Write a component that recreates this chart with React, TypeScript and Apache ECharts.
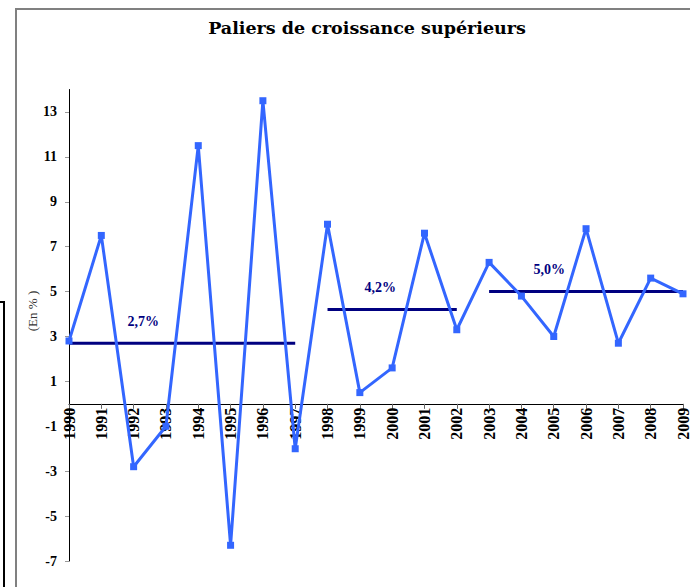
import React, { useEffect, useRef } from "react";
import * as echarts from "echarts";

const years = ["1990","1991","1992","1993","1994","1995","1996","1997","1998","1999","2000","2001","2002","2003","2004","2005","2006","2007","2008","2009"];
const growth = [2.8, 7.5, -2.8, -1.0, 11.5, -6.3, 13.5, -2.0, 8.0, 0.5, 1.6, 7.6, 3.3, 6.3, 4.8, 3.0, 7.8, 2.7, 5.6, 4.9];
const periodStart = ["1990", "1998", "2003"];
const periodEnd = ["1997", "2002", "2009"];
const periodMean = [2.7, 4.2, 5.0];
const periodLabel = ["2,7%", "4,2%", "5,0%"];
const yTicks = [-7, -5, -3, -1, 1, 3, 5, 7, 9, 11, 13];
const Y_MIN = -7;
const Y_MAX = 14;

const labelPos = [2.3, 9.63, 14.86]; // fractional category index for label centres

const FONT = "'Liberation Serif', 'Times New Roman', serif";

export default function App() {
  const ref = useRef<HTMLDivElement>(null);
  useEffect(() => {
    document.body.style.margin = "0";
    if (!ref.current) return;
    const chart = echarts.init(ref.current, null, { renderer: "svg" });
    const meanSeries = periodMean.map((m, i) => {
      const s = years.indexOf(periodStart[i]);
      const e = years.indexOf(periodEnd[i]);
      return {
        type: "line",
        data: years.map((_, k) => (k >= s && k <= e ? m : null)),
        symbol: "none",
        lineStyle: { color: "#000080", width: 3 },
        z: 2,
      };
    });
    const xAxisBase = {
      type: "category",
      data: years,
      boundaryGap: false,
      axisLine: { onZero: false, lineStyle: { color: "#000", width: 1 } },
      axisTick: { show: true, length: 5, lineStyle: { color: "#666" } },
      axisLabel: {
        rotate: 90,
        interval: 0,
        margin: 4,
        fontFamily: FONT,
        fontWeight: "bold",
        fontSize: 16,
        color: "#000",
      },
      splitLine: { show: false },
      z: 1,
    };
    chart.setOption({
      animation: false,
      title: {
        text: "Paliers de croissance supérieurs",
        left: 362,
        textAlign: "center",
        top: 14,
        textStyle: { fontFamily: "'DejaVu Serif', serif", fontWeight: "bold", fontSize: 17.5, color: "#000" },
      },
      grid: { left: 69, right: 7, top: 89.5, bottom: 26, outerBoundsMode: "none", containLabel: false },
      xAxis: xAxisBase,
      yAxis: {
        type: "value",
        min: Y_MIN,
        max: Y_MAX,
        axisLine: { show: true, lineStyle: { color: "#000", width: 1 } },
        axisTick: { show: true, length: 4, customValues: yTicks, lineStyle: { color: "#999" } },
        axisLabel: {
          customValues: yTicks,
          margin: 12,
          fontFamily: FONT,
          fontWeight: "bold",
          fontSize: 14,
          color: "#000",
        },
        splitLine: { show: false },
      },
      series: [
        ...meanSeries,
        {
          type: "line",
          data: growth,
          symbol: "rect",
          symbolSize: 7,
          itemStyle: { color: "#3366ff" },
          lineStyle: { color: "#3366ff", width: 3 },
          z: 3,
        },
      ],
    });

    const yPx = (v: number) => chart.convertToPixel({ yAxisIndex: 0 }, v) as number;
    const zeroOffset = yPx(Y_MIN) - yPx(0);

    const xAt = (f: number) => {
      const a = Math.floor(f);
      const pa = chart.convertToPixel({ xAxisIndex: 0 }, years[a]) as number;
      const pb = chart.convertToPixel({ xAxisIndex: 0 }, years[a + 1]) as number;
      return pa + (pb - pa) * (f - a);
    };
    const texts = periodLabel.map((t, i) => ({
      type: "text",
      x: xAt(labelPos[i]),
      y: yPx(periodMean[i]) - 22,
      style: {
        text: t,
        fill: "#000080",
        font: `bold 14px ${FONT}`,
        textAlign: "center",
        textVerticalAlign: "middle",
      },
      z: 10,
    }));
    chart.setOption({
      xAxis: { ...xAxisBase, offset: -zeroOffset },
      graphic: [
        { type: "rect", shape: { x: 16, y: 9, width: 800, height: 700 }, style: { fill: "none", stroke: "#808080", lineWidth: 2 }, z: 0 },
        { type: "rect", shape: { x: -100, y: 302, width: 104, height: 400 }, style: { fill: "none", stroke: "#000", lineWidth: 2 }, z: 0 },
        {
          type: "text",
          x: 32,
          y: 311,
          rotation: Math.PI / 2,
          style: { text: "(En % )", fill: "#333", font: `13px ${FONT}`, textAlign: "center", textVerticalAlign: "middle" },
        },
        ...texts,
      ],
    });
    return () => chart.dispose();
  }, []);
  return <div ref={ref} style={{ width: 690, height: 587 }} />;
}
